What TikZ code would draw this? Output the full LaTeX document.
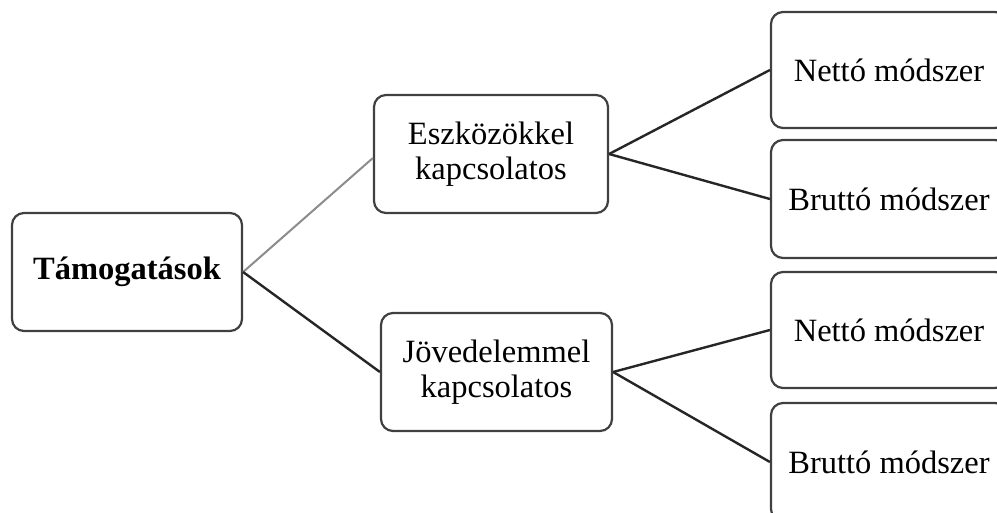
\documentclass[tikz,border=0pt]{standalone}
\usepackage{fontspec}
\setmainfont{Liberation Serif}
\begin{document}
\begin{tikzpicture}[x=1pt,y=-1pt,
  box/.style={draw=black!75, line width=2.2pt, rounded corners=12pt, fill=white,
    inner sep=0pt, align=center, font=\fontsize{32.5}{35}\selectfont},
  conn/.style={draw=black!85, line width=2.4pt},
  connlight/.style={draw=black!45, line width=2pt}]
\clip (0,0) rectangle (997,512);
\fill[white] (0,0) rectangle (997,512);
\node[box, minimum width=230pt, minimum height=118pt] (root) at (127,272) {\textbf{Támogatások}};
\node[box, minimum width=234pt, minimum height=118pt] (esz) at (491,154) {Eszközökkel\\kapcsolatos};
\node[box, minimum width=231pt, minimum height=118pt] (jov) at (496.5,372) {Jövedelemmel\\kapcsolatos};
\node[box, minimum width=236pt, minimum height=116pt] (n1) at (889,70) {Nettó módszer};
\node[box, minimum width=236pt, minimum height=118pt] (b1) at (889,199) {Bruttó módszer};
\node[box, minimum width=236pt, minimum height=116pt] (n2) at (889,330) {Nettó módszer};
\node[box, minimum width=236pt, minimum height=118pt] (b2) at (889,462) {Bruttó módszer};
\draw[connlight] (root.east) -- ([yshift=-4pt]esz.west);
\draw[conn] (root.east) -- (jov.west);
\draw[conn] (esz.east) -- (n1.west);
\draw[conn] (esz.east) -- (b1.west);
\draw[conn] (jov.east) -- (n2.west);
\draw[conn] (jov.east) -- (b2.west);
\end{tikzpicture}
\end{document}
